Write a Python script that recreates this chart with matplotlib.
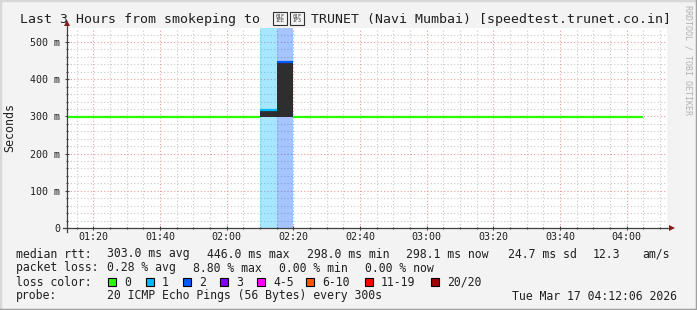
import matplotlib.pyplot as plt
from matplotlib.patches import Rectangle, Polygon
from matplotlib.lines import Line2D

# data: 5 minute intervals, start time in minutes after midnight
interval_start = [70, 75, 80, 85, 90, 95, 100, 105, 110, 115, 120, 125, 130, 135,
                  140, 145, 150, 155, 160, 165, 170, 175, 180, 185, 190, 195, 200,
                  205, 210, 215, 220, 225, 230, 235, 240]
median_ms = [298.3, 298.4, 298.2, 298.5, 298.3, 298.4, 298.2, 298.3, 298.6, 298.4,
             298.3, 298.2, 317.0, 446.0, 298.5, 298.3, 298.4, 298.2, 298.3, 298.5,
             298.4, 298.3, 298.2, 298.4, 298.3, 298.5, 298.2, 298.4, 298.3, 298.0,
             298.4, 298.3, 298.2, 298.4, 298.1]
smoke_lo = [298.0, 298.1, 298.0, 298.2, 298.0, 298.1, 298.0, 298.0, 298.3, 298.1,
            298.0, 298.0, 299.0, 299.0, 298.2, 298.0, 298.1, 298.0, 298.0, 298.2,
            298.1, 298.0, 298.0, 298.1, 298.0, 298.2, 298.0, 298.1, 298.0, 297.8,
            298.1, 298.0, 298.0, 298.1, 297.9]
smoke_hi = [298.7, 298.8, 298.5, 298.9, 298.6, 298.8, 298.5, 298.7, 299.0, 298.8,
            298.6, 298.5, 320.0, 448.0, 298.9, 298.6, 298.8, 298.5, 298.7, 298.9,
            298.8, 298.6, 298.5, 298.8, 298.7, 298.9, 298.5, 298.8, 298.6, 298.3,
            298.8, 298.6, 298.5, 298.7, 298.4]
loss = [0, 0, 0, 0, 0, 0, 0, 0, 0, 0, 0, 0, 1, 2, 0, 0, 0, 0, 0, 0,
        0, 0, 0, 0, 0, 0, 0, 0, 0, 0, 0, 0, 0, 0, 0]

loss_labels = ["0", "1", "2", "3", "4-5", "6-10", "11-19", "20/20"]
loss_colors = ["#26ff00", "#00b8ff", "#0059ff", "#7e00ff", "#ff00ff", "#ff5500", "#ff0000", "#a10000"]

x_ticks = [80, 100, 120, 140, 160, 180, 200, 220, 240]
x_tick_labels = ["01:20", "01:40", "02:00", "02:20", "02:40", "03:00", "03:20", "03:40", "04:00"]
y_ticks = [0, 100, 200, 300, 400, 500]
y_tick_labels = ["0", "100 m", "200 m", "300 m", "400 m", "500 m"]

# the flag (U+1F1EE U+1F1F3) has no glyph in any installed font; the original shows hex boxes too
flag_codes = ["01F\n1EE", "01F\n1F3"]

t_start, t_end = 72.1, 252.1
y_top = 537.6

W, H = 697, 310
mono = "DejaVu Sans Mono"
plt.rcParams['font.family'] = [mono, 'DejaVu Sans']


def fx(x):
    return x / W


def fy(y):
    return 1 - y / H


fig = plt.figure(figsize=(W / 100, H / 100), dpi=100, facecolor="#f3f3f3")
ax = fig.add_axes([fx(67), fy(228), 600 / W, 200 / H])
ax.set_facecolor("white")
ax.set_xlim(t_start, t_end)
ax.set_ylim(0, y_top)
for s in ax.spines.values():
    s.set_visible(False)

# grid
ax.set_xticks(x_ticks)
ax.set_xticklabels(x_tick_labels)
ax.set_xticks([m for m in range(75, 253, 5)], minor=True)
ax.set_yticks(y_ticks)
ax.set_yticklabels(y_tick_labels)
ax.set_yticks([v for v in range(20, 537, 20)], minor=True)
ax.grid(True, which="minor", color="#c8c8c8", linestyle=(0, (1, 2)), linewidth=0.8)
ax.grid(True, which="major", color="#eb9a9a", linestyle=(0, (1, 2)), linewidth=0.8)
ax.set_axisbelow(True)
ax.tick_params(which="major", direction="inout", length=3, width=0.8, color="#404040",
               labelsize=7.2, pad=3.5)
ax.tick_params(axis="x", which="major", pad=1.5)
ax.tick_params(which="minor", direction="inout", length=2, width=0.8, color="#404040")
for lab in ax.get_xticklabels() + ax.get_yticklabels():
    lab.set_color("#202020")

# loss background
for t, l in zip(interval_start, loss):
    if l > 0:
        ax.axvspan(t, t + 5, color=loss_colors[l], alpha=0.35, linewidth=0, zorder=1)

# smoke
ax.bar(interval_start, [h - l for h, l in zip(smoke_hi, smoke_lo)], bottom=smoke_lo,
       width=5, align="edge", color="#2e2e2e", linewidth=0, zorder=2)

# median line coloured by loss
ax.hlines(median_ms, interval_start, [t + 5 for t in interval_start],
          colors=[loss_colors[l] for l in loss], linewidth=1.6, zorder=3)

# axes with arrows
fig.add_artist(Line2D([fx(63), fx(669)], [fy(228), fy(228)], color="#404040", linewidth=0.9))
fig.add_artist(Line2D([fx(67), fx(67)], [fy(232), fy(25)], color="#404040", linewidth=0.9))
fig.add_artist(Polygon([[fx(669), fy(225)], [fx(669), fy(231)], [fx(675), fy(228)]],
                       closed=True, color="#8b1a1a", linewidth=0))
fig.add_artist(Polygon([[fx(64), fy(26)], [fx(70), fy(26)], [fx(67), fy(20)]],
                       closed=True, color="#8b1a1a", linewidth=0))

# frame
fig.add_artist(Line2D([0, 0, 1], [0, 1, 1], color="#d8d8d8", linewidth=2.5))
fig.add_artist(Line2D([0, 1, 1], [0, 0, 1], color="#a0a0a0", linewidth=2.5))

# title
title = dict(ha="left", va="center", fontsize=9.5, color="#202020")
fig.text(fx(20), fy(19), "Last 3 Hours from smokeping to", **title)
fig.text(fx(311), fy(19), "TRUNET (Navi Mumbai) [speedtest.trunet.co.in]", **title)
for bx, code in zip([273, 290], flag_codes):
    fig.add_artist(Rectangle((fx(bx), fy(25)), 14 / W, 13 / H, facecolor="none",
                             edgecolor="#303030", linewidth=0.8))
    fig.text(fx(bx + 7), fy(18.5), code, ha="center", va="center", fontsize=3.6,
             color="#303030", linespacing=1.0)

fig.text(fx(10), fy(128), "Seconds", rotation=90, ha="center", va="center", fontsize=8.4, color="#202020")
fig.text(fx(688), fy(5), "RRDTOOL / TOBI OETIKER", rotation=-90, ha="center", va="top",
         fontsize=6, color="#b0b0b0")

# legend rows
leg = dict(fontsize=8.3, color="#202020", va="center", ha="left")
rows = [
    (254, [(16, "median rtt:"), (107, "303.0 ms avg"), (207, "446.0 ms max"), (307, "298.0 ms min"),
           (406, "298.1 ms now"), (508, "24.7 ms sd"), (593, "12.3"), (642, "am/s")]),
    (268, [(16, "packet loss:"), (107, "0.28 % avg"), (193, "8.80 % max"), (279, "0.00 % min"),
           (365, "0.00 % now")]),
    (282, [(16, "loss color:")]),
    (296, [(16, "probe:"), (107, "20 ICMP Echo Pings (56 Bytes) every 300s"),
           (512, "Tue Mar 17 04:12:06 2026")]),
]
for y, items in rows:
    for x, s in items:
        fig.text(fx(x), fy(y), s, **leg)

box_x = [108, 146, 183, 220, 257, 306, 365, 431]
for bx, lab, col in zip(box_x, loss_labels, loss_colors):
    fig.add_artist(Rectangle((fx(bx), fy(286)), 8 / W, 8 / H, facecolor=col,
                             edgecolor="black", linewidth=0.8))
    fig.text(fx(bx + 16), fy(282), lab, **leg)

fig.savefig("out.png", dpi=100, facecolor=fig.get_facecolor())
